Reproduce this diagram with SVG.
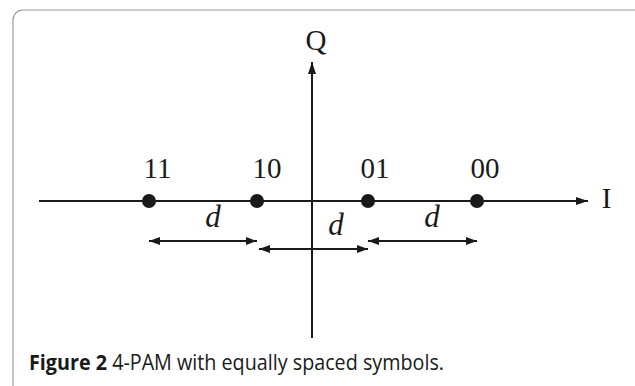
<svg xmlns="http://www.w3.org/2000/svg" width="635" height="386" viewBox="0 0 635 386">
<style>
.ax{stroke:#1a1a1a;stroke-width:2;fill:none}
.dim{stroke:#1a1a1a;stroke-width:2;fill:none}
.dot{fill:#1a1a1a}
.lbl{font-family:"Liberation Serif","DejaVu Serif",serif;font-size:29px;fill:#1a1a1a;text-anchor:middle}
.d{font-family:"Liberation Serif","DejaVu Serif",serif;font-style:italic;font-size:31px;fill:#1a1a1a;text-anchor:middle}
.cap{font-family:"Open Sans","Liberation Sans",sans-serif;font-size:21px;fill:#1a1a1a}
</style>
<defs>
<marker id="ah" viewBox="0 0 12 8" refX="12" refY="4" markerWidth="12" markerHeight="8" markerUnits="userSpaceOnUse" orient="auto-start-reverse">
<path d="M0,0 L12,4 L0,8 Z" fill="#1a1a1a"/>
</marker>
<marker id="sh" viewBox="0 0 11 8" refX="11" refY="4" markerWidth="11" markerHeight="8" markerUnits="userSpaceOnUse" orient="auto-start-reverse">
<path d="M0,0 L11,4 L0,8 Z" fill="#1a1a1a"/>
</marker>
</defs>
<rect x="13" y="10" width="640" height="400" rx="10" ry="10" fill="#fff" stroke="#9a9a9a" stroke-width="1.2"/>
<g id="connectors">
<line class="ax" x1="39" y1="201" x2="588" y2="201" marker-end="url(#ah)"/>
<line class="ax" x1="312" y1="338" x2="312" y2="62" marker-end="url(#ah)"/>
<line class="dim" x1="149" y1="241" x2="257" y2="241" marker-start="url(#sh)" marker-end="url(#sh)"/>
<line class="dim" x1="259" y1="249" x2="368" y2="249" marker-start="url(#sh)" marker-end="url(#sh)"/>
<line class="dim" x1="368" y1="241" x2="477" y2="241" marker-start="url(#sh)" marker-end="url(#sh)"/>
</g>
<g id="axis-I"><text class="lbl" x="606.5" y="208" font-size="34">I</text></g>
<g id="axis-Q"><text class="lbl" x="316" y="50" font-size="30">Q</text></g>
<g id="s11"><circle class="dot" cx="149" cy="201" r="7"/><text class="lbl" x="157.5" y="178">11</text></g>
<g id="s10"><circle class="dot" cx="257" cy="201" r="7"/><text class="lbl" x="267" y="178">10</text></g>
<g id="s01"><circle class="dot" cx="368" cy="201" r="7"/><text class="lbl" x="375" y="178">01</text></g>
<g id="s00"><circle class="dot" cx="477" cy="201" r="7"/><text class="lbl" x="485" y="178">00</text></g>
<g id="d1"><text class="d" x="213" y="227">d</text></g>
<g id="d2"><text class="d" x="336" y="235">d</text></g>
<g id="d3"><text class="d" x="432" y="227">d</text></g>
<g id="caption"><text class="cap" x="29" y="370" textLength="415" lengthAdjust="spacingAndGlyphs"><tspan font-weight="bold">Figure 2</tspan> 4-PAM with equally spaced symbols.</text></g>
</svg>
